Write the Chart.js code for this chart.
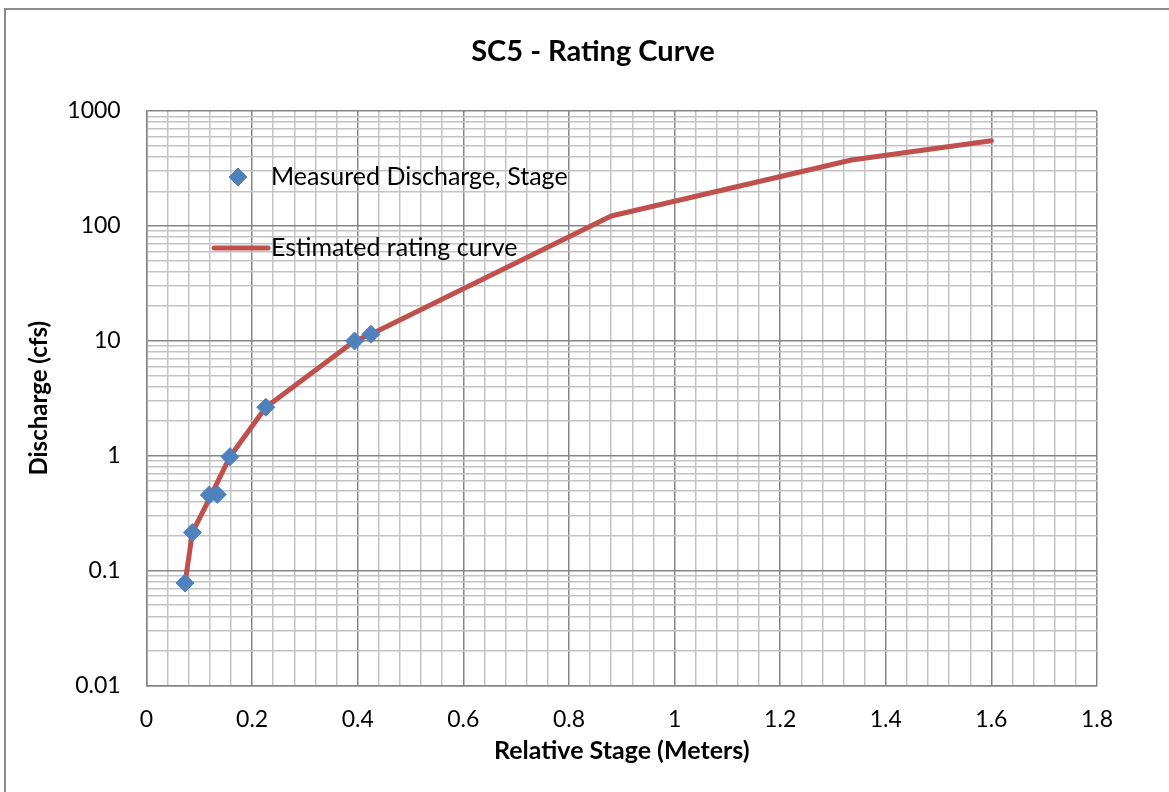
<!DOCTYPE html>
<html lang="en">
<head>
    <meta charset="UTF-8">
    <title>SC5 - Rating Curve</title>
    <script src="https://cdn.jsdelivr.net/npm/chart.js"></script>
    <style>
        html, body {
            margin: 0;
            padding: 0;
            background: #fff;
            overflow: hidden;
        }
        .chart-box {
            position: absolute;
            left: 4px;
            top: 8px;
            width: 1174px;
            height: 782px;
            border: 2px solid #8c8c8c;
        }
    </style>
</head>
<body>
    <div class="chart-box">
        <canvas id="ratingChart" width="1174" height="782"></canvas>
    </div>

    <script>
        // measured points (stage in m, discharge in cfs)
        const measuredStage = [0.073, 0.087, 0.119, 0.134, 0.158, 0.226, 0.394, 0.425];
        const measuredQ = [0.078, 0.215, 0.455, 0.46, 0.98, 2.64, 9.96, 11.4];

        // estimated rating curve
        const ratingStage = [0.073, 0.087, 0.122, 0.158, 0.226, 0.394, 0.425, 0.88, 1.335, 1.6];
        const ratingQ = [0.078, 0.215, 0.45, 0.98, 2.64, 9.96, 11.4, 122, 375, 552];

        const xMin = 0, xMax = 1.8, xMinorStep = 0.04;
        const yDecades = [0.01, 0.1, 1, 10, 100, 1000];

        const MAJOR = '#868686', MINOR = '#c3c3c3';
        const FONT = 'Lato, "Open Sans", sans-serif';

        const toPoints = (xs, ys) => xs.map((x, i) => ({ x: x, y: ys[i] }));
        const isDecade = v => Math.abs(Math.log10(v) - Math.round(Math.log10(v))) < 1e-9;
        const isMajorX = v => Math.round(v * 100) % 20 === 0;

        // legend drawn inside the plot area, like the original
        const innerLegend = {
            id: 'innerLegend',
            afterDatasetsDraw(chart) {
                const ctx = chart.ctx;
                const ds = chart.data.datasets;
                ctx.save();
                ctx.font = '25px ' + FONT;
                ctx.textBaseline = 'middle';

                // marker entry
                ctx.fillStyle = ds[0].backgroundColor;
                ctx.strokeStyle = ds[0].borderColor;
                ctx.lineWidth = 1;
                Chart.helpers.drawPoint(ctx, { pointStyle: 'rectRot', radius: 9, borderWidth: 1 }, 232, 167);
                ctx.fillStyle = '#000';
                ctx.fillText(ds[0].label, 265, 167);

                // line entry
                ctx.strokeStyle = ds[1].borderColor;
                ctx.lineWidth = ds[1].borderWidth;
                ctx.lineCap = 'round';
                ctx.beginPath();
                ctx.moveTo(208, 238);
                ctx.lineTo(262, 238);
                ctx.stroke();
                ctx.fillText(ds[1].label, 265, 238);
                ctx.restore();
            }
        };

        new Chart(document.getElementById('ratingChart'), {
            type: 'scatter',
            data: {
                datasets: [
                    {
                        label: 'Measured Discharge, Stage',
                        data: toPoints(measuredStage, measuredQ),
                        pointStyle: 'rectRot',
                        pointRadius: 9,
                        pointBorderWidth: 1,
                        backgroundColor: '#4f81bd',
                        borderColor: '#4f81bd',
                        showLine: false
                    },
                    {
                        label: 'Estimated rating curve',
                        data: toPoints(ratingStage, ratingQ),
                        showLine: true,
                        borderColor: '#c0504d',
                        backgroundColor: '#c0504d',
                        borderWidth: 5,
                        borderJoinStyle: 'round',
                        borderCapStyle: 'round',
                        pointRadius: 0
                    }
                ]
            },
            options: {
                responsive: false,
                animation: false,
                layout: { padding: 0 },
                plugins: {
                    legend: { display: false },
                    tooltip: { enabled: false },
                    title: {
                        display: true,
                        text: 'SC5 - Rating Curve',
                        color: '#000',
                        font: { family: FONT, size: 29, weight: 'bold' },
                        padding: { top: 24.5, bottom: 41.7 }
                    }
                },
                scales: {
                    x: {
                        type: 'linear',
                        min: xMin,
                        max: xMax,
                        afterBuildTicks(scale) {
                            const ticks = [];
                            const n = Math.round((xMax - xMin) / xMinorStep);
                            for (let i = 0; i <= n; i++) {
                                ticks.push({ value: Math.round((xMin + i * xMinorStep) * 100) / 100 });
                            }
                            scale.ticks = ticks;
                        },
                        afterFit(scale) { scale.height = 106.5; },
                        grid: {
                            drawTicks: false,
                            lineWidth: 1.5,
                            color: c => isMajorX(c.tick.value) ? MAJOR : MINOR
                        },
                        border: { color: MAJOR, width: 1.5 },
                        ticks: {
                            autoSkip: false,
                            maxRotation: 0,
                            padding: 20.7,
                            color: '#000',
                            font: { family: FONT, size: 23 },
                            callback: v => isMajorX(v) ? String(Math.round(v * 10) / 10) : ''
                        },
                        title: {
                            display: true,
                            text: 'Relative Stage (Meters)',
                            color: '#000',
                            font: { family: FONT, size: 25, weight: 'bold' },
                            padding: { top: 0, bottom: 26 }
                        }
                    },
                    y: {
                        type: 'logarithmic',
                        min: yDecades[0],
                        max: yDecades[yDecades.length - 1],
                        afterBuildTicks(scale) {
                            const ticks = [];
                            for (let d = 0; d < yDecades.length - 1; d++) {
                                for (let k = 1; k <= 9; k++) {
                                    ticks.push({ value: parseFloat((k * yDecades[d]).toPrecision(6)) });
                                }
                            }
                            ticks.push({ value: yDecades[yDecades.length - 1] });
                            scale.ticks = ticks;
                        },
                        afterFit(scale) { scale.width = 140.5; },
                        grid: {
                            drawTicks: false,
                            lineWidth: 1.5,
                            color: c => isDecade(c.tick.value) ? MAJOR : MINOR
                        },
                        border: { color: MAJOR, width: 1.5 },
                        ticks: {
                            autoSkip: false,
                            padding: 25.8,
                            color: '#000',
                            font: { family: FONT, size: 23 },
                            callback: v => isDecade(v) ? String(v) : ''
                        },
                        title: {
                            display: true,
                            text: 'Discharge (cfs)',
                            color: '#000',
                            font: { family: FONT, size: 24, weight: 'bold' },
                            padding: { top: 18.6, bottom: 0 }
                        }
                    },
                    // empty right-hand axis, only reserves the blank strip right of the plot
                    spacer: {
                        type: 'linear',
                        position: 'right',
                        display: true,
                        grid: { display: false, drawTicks: false },
                        border: { display: false },
                        ticks: { display: false },
                        afterFit(scale) { scale.width = 83; }
                    }
                }
            },
            plugins: [innerLegend]
        });
    </script>
</body>
</html>
